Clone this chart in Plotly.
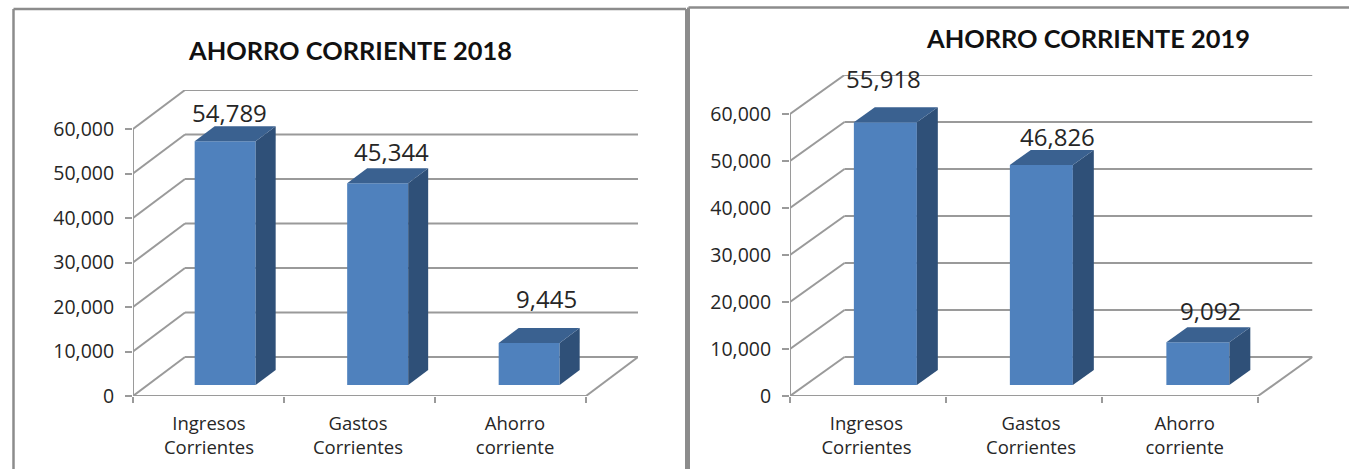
import plotly.graph_objects as go

categories = ["Ingresos<br>Corrientes", "Gastos<br>Corrientes", "Ahorro<br>corriente"]
values_2018 = [54789, 45344, 9445]
values_2019 = [55918, 46826, 9092]
titles = ["AHORRO CORRIENTE 2018", "AHORRO CORRIENTE 2019"]
y_ticks = [0, 10000, 20000, 30000, 40000, 50000, 60000]

W, H = 1349, 469
FRONT, SIDE, TOP = "#4f81bd", "#2f5078", "#3a6190"
GRID, TEXT = "#9a9a9a", "#262626"
TXT_FONT = "Open Sans"
TITLE_FONT = "Lato"

# pixel geometry of each 3D plot
panels = [
    dict(vals=values_2018, title=titles[0], x0=133, cw=151, ybase=396, ppv=44.5 / 10000,
         wx=52, wy=39, bx=[47, 48.5, 49], bw=61, d0=11 / 39, d1=26 / 39,
         lab_dx=[4.5, 13.5, 17], lab_dy=[29, 32, 44], label_pos=[0.503, 1.49, 2.53], title_xy=(349.5, 50)),
    dict(vals=values_2019, title=titles[1], x0=790, cw=156, ybase=396, ppv=47 / 10000,
         wx=54.5, wy=39, bx=[48.5, 48.5, 49], bw=63, d0=11 / 39, d1=26 / 39,
         lab_dx=[-1.5, 16, 13], lab_dy=[44, 28, 32], label_pos=[0.49, 1.545, 2.53], title_xy=(1088, 38)),
]

fig = go.Figure()
shapes, annotations = [], []

for i, p in enumerate(panels):
    xa, ya = ("x", "y") if i == 0 else ("x2", "y2")
    ax_x, ax_y = ("xaxis", "yaxis") if i == 0 else ("xaxis2", "yaxis2")
    cw, ppv = p["cw"], p["ppv"]
    dx_u, dy_u = p["wx"] / cw, p["wy"] / ppv   # wall depth in data units
    xr = 3 + dx_u
    yr = y_ticks[-1] + dy_u
    x1_px = p["x0"] + xr * cw
    y1_px = p["ybase"] - yr * ppv

    def line(x0, y0, x1, y1, w=2):
        shapes.append(dict(type="line", x0=x0, y0=y0, x1=x1, y1=y1, xref=xa, yref=ya,
                           layer="below", line=dict(color=GRID, width=w)))

    # walls, floor, axes
    for t in y_ticks:
        line(0, t, dx_u, t + dy_u)
        line(dx_u, t + dy_u, xr, t + dy_u)
    line(0, 0, 0, y_ticks[-1])
    line(0, 0, 3, 0)
    line(3, 0, xr, dy_u)

    # bars
    lefts = [j + p["bx"][j] / cw + p["d0"] * p["wx"] / cw for j in range(3)]
    bw = p["bw"] / cw
    base0 = p["d0"] * dy_u
    ddx = (p["d1"] - p["d0"]) * dx_u
    ddy = (p["d1"] - p["d0"]) * dy_u
    fig.add_trace(go.Bar(x=[l + bw / 2 for l in lefts], y=p["vals"], base=[base0] * 3, width=bw,
                         marker=dict(color=FRONT, line=dict(width=0)), xaxis=xa, yaxis=ya,
                         showlegend=False, hoverinfo="skip"))
    for l, v in zip(lefts, p["vals"]):
        r = l + bw
        t = base0 + v
        fig.add_trace(go.Scatter(x=[r, r + ddx, r + ddx, r, r], y=[base0, base0 + ddy, t + ddy, t, base0],
                                 fill="toself", fillcolor=SIDE, mode="lines", line=dict(width=0),
                                 xaxis=xa, yaxis=ya, showlegend=False, hoverinfo="skip"))
        fig.add_trace(go.Scatter(x=[l, r, r + ddx, l + ddx, l], y=[t, t, t + ddy, t + ddy, t],
                                 fill="toself", fillcolor=TOP, mode="lines", line=dict(width=0),
                                 xaxis=xa, yaxis=ya, showlegend=False, hoverinfo="skip"))
    for j, v in enumerate(p["vals"]):
        annotations.append(dict(x=lefts[j] + bw / 2, y=base0 + v, xref=xa, yref=ya, text=f"{v:,}",
                                showarrow=False, xshift=p["lab_dx"][j], yshift=p["lab_dy"][j],
                                font=dict(family=TXT_FONT, size=24, color=TEXT),
                                xanchor="center", yanchor="middle"))

    # chart title
    annotations.append(dict(x=p["title_xy"][0] / W, y=1 - p["title_xy"][1] / H, xref="paper", yref="paper",
                            text=f"<b>{p['title']}</b>", showarrow=False, xanchor="center", yanchor="middle",
                            font=dict(family=TITLE_FONT, size=25.4, color="#111111")))

    fig.update_layout({
        ax_x: dict(domain=[p["x0"] / W, x1_px / W], range=[0, xr], showgrid=False, zeroline=False, showline=False,
                   tickmode="array", tickvals=p["label_pos"], ticktext=categories, ticks="",
                   tickfont=dict(family=TXT_FONT, size=18.5, color=TEXT), ticklabelstandoff=14,
                   minor=dict(tickmode="array", tickvals=[0, 1, 2, 3], ticks="outside", ticklen=6,
                              tickwidth=2, tickcolor=GRID),
                   anchor=ya, fixedrange=True),
        ax_y: dict(domain=[1 - p["ybase"] / H, 1 - y1_px / H], range=[0, yr], showgrid=False, zeroline=False,
                   showline=False, tickmode="array", tickvals=y_ticks, tickformat=",", ticks="outside",
                   ticklen=7, tickwidth=2, tickcolor=GRID, ticklabelstandoff=7,
                   tickfont=dict(family=TXT_FONT, size=19.5, color=TEXT),
                   anchor=xa, fixedrange=True),
    })

# frames round the two pictures
def frame(x0, y0, x1, y1, w):
    shapes.append(dict(type="line", xref="paper", yref="paper", x0=x0 / W, x1=x1 / W,
                       y0=1 - y0 / H, y1=1 - y1 / H, line=dict(color="#8c8c8c", width=w), layer="above"))

frame(13.5, 9, 13.5, 469, 2.5)
frame(13.5, 9, 686, 9, 2.5)
frame(686, 9, 686, 469, 2)
frame(688.5, 7.5, 688.5, 469, 3)
frame(688.5, 7.5, 1349, 7.5, 2.5)

fig.update_layout(width=W, height=H, margin=dict(l=0, r=0, t=0, b=0, autoexpand=False), paper_bgcolor="white",
                  plot_bgcolor="rgba(0,0,0,0)", shapes=shapes, annotations=annotations, barmode="overlay")
fig.write_html("out.html", config=dict(displayModeBar=False),
               post_script="document.body.style.margin='0';document.body.style.overflow='hidden';")
